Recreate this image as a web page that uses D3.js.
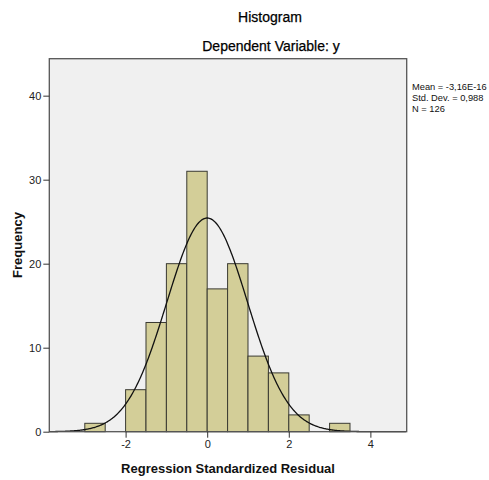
<!DOCTYPE html>
<html><head><meta charset="utf-8">
<script src="https://cdn.jsdelivr.net/npm/d3@7"></script>
<style>body{margin:0;background:#fff}svg{display:block;font-family:"Liberation Sans",Arial,sans-serif}</style>
</head><body><svg id="c" width="489" height="480"></svg>
<script>
const binStarts = [-3, -2, -1.5, -1, -0.5, 0, 0.5, 1, 1.5, 2, 3];
const counts    = [1, 5, 13, 20, 31, 17, 20, 9, 7, 2, 1];
const binWidth = 0.5;
const xTicks = [-2, 0, 2, 4];
const yTicks = [0, 10, 20, 30, 40];
const stats = {mean: -3.16e-16, sd: 0.988, n: 126};
const legendLines = ["Mean = -3,16E-16", "Std. Dev. = 0,988", "N = 126"];

const svg = d3.select("#c");
const L = 49.3, R = 406.7, T = 58.7, B = 431.7;
const x = d3.scaleLinear().domain([-3.87, 4.89]).range([L, R]);
const y = d3.scaleLinear().domain([0, 44.4]).range([B, T]);

svg.append("rect").attr("x", L).attr("y", T).attr("width", R - L).attr("height", B - T)
  .attr("fill", "#f0f0f0");

svg.selectAll("rect.bar").data(binStarts).enter().append("rect").attr("class", "bar")
  .attr("x", d => x(d)).attr("width", d => x(d + binWidth) - x(d))
  .attr("y", (d, i) => y(counts[i])).attr("height", (d, i) => y(0) - y(counts[i]))
  .attr("fill", "#d3ce98").attr("stroke", "#3a3a32").attr("stroke-width", 1);

const pdf = v => stats.n * binWidth / (stats.sd * Math.sqrt(2 * Math.PI)) *
  Math.exp(-0.5 * Math.pow((v - stats.mean) / stats.sd, 2));
const pts = d3.range(-3.87, 4.89, 0.02);
svg.append("path").datum(pts)
  .attr("d", d3.line().x(d => x(d)).y(d => y(pdf(d))))
  .attr("fill", "none").attr("stroke", "#111").attr("stroke-width", 1.3);

svg.append("rect").attr("x", L).attr("y", T).attr("width", R - L).attr("height", B - T)
  .attr("fill", "none").attr("stroke", "#555").attr("stroke-width", 1.3);

const fmt = d => String(d);
const xa = svg.append("g").attr("transform", `translate(0,${B})`)
  .call(d3.axisBottom(x).tickValues(xTicks).tickSize(6).tickPadding(3).tickFormat(fmt));
xa.select(".domain").remove();
xa.selectAll("line").attr("stroke", "#333");
xa.selectAll("text").attr("font-size", 11).attr("fill", "#222").attr("font-family", "Liberation Sans, Arial");

const ya = svg.append("g").attr("transform", `translate(${L},0)`)
  .call(d3.axisLeft(y).tickValues(yTicks).tickSize(6).tickPadding(2).tickFormat(fmt));
ya.select(".domain").remove();
ya.selectAll("line").attr("stroke", "#333");
ya.selectAll("text").attr("font-size", 11).attr("fill", "#222").attr("font-family", "Liberation Sans, Arial");

svg.append("text").attr("x", 270).attr("y", 22).attr("text-anchor", "middle")
  .attr("font-size", 14).attr("fill", "#000").attr("stroke", "#000").attr("stroke-width", 0.25).text("Histogram");
svg.append("text").attr("x", 271).attr("y", 51).attr("text-anchor", "middle")
  .attr("font-size", 14).attr("fill", "#000").attr("stroke", "#000").attr("stroke-width", 0.25).text("Dependent Variable: y");
svg.append("text").attr("x", 228).attr("y", 473).attr("text-anchor", "middle")
  .attr("font-size", 13).attr("font-weight", "bold").attr("fill", "#111").text("Regression Standardized Residual");
svg.append("text").attr("transform", "translate(22,245) rotate(-90)").attr("text-anchor", "middle")
  .attr("font-size", 13).attr("font-weight", "bold").attr("fill", "#111").text("Frequency");

svg.selectAll("text.leg").data(legendLines).enter().append("text").attr("class", "leg")
  .attr("x", 412).attr("y", (d, i) => 90 + i * 11).attr("font-size", 9.3).attr("fill", "#111")
  .text(d => d);
</script></body></html>
